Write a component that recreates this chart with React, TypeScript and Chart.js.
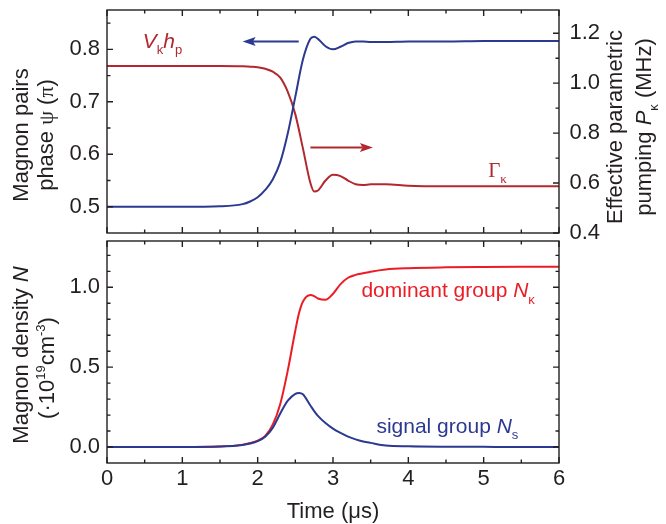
import React, { useEffect, useRef } from "react";
import { Chart, registerables } from "chart.js";

Chart.register(...registerables);

// ---------------- data ----------------
// Top panel: time (µs), magnon-pair phase psi (units of pi, left axis), V_k h_p pumping (MHz, right axis)
const timeTop = [0, 0.5, 1.0, 1.5, 1.8, 1.9, 2.0, 2.1, 2.2, 2.3, 2.4, 2.5, 2.6, 2.7, 2.75, 2.8, 2.9, 3.0, 3.1, 3.2, 3.3, 3.4, 3.5, 3.7, 4.0, 4.5, 5.0, 5.5, 6.0];
const phasePsi = [0.5, 0.5, 0.5, 0.501, 0.505, 0.51, 0.518, 0.532, 0.552, 0.585, 0.64, 0.71, 0.78, 0.82, 0.824, 0.82, 0.806, 0.8, 0.805, 0.812, 0.815, 0.815, 0.814, 0.814, 0.815, 0.815, 0.816, 0.816, 0.816];
const pumpVh = [1.069, 1.069, 1.069, 1.069, 1.068, 1.066, 1.064, 1.058, 1.046, 1.022, 0.965, 0.875, 0.74, 0.6, 0.566, 0.57, 0.61, 0.633, 0.628, 0.61, 0.595, 0.592, 0.595, 0.595, 0.589, 0.587, 0.587, 0.587, 0.587];

// Bottom panel: time (µs), magnon density (1e19 cm^-3)
const timeBottom = [0, 0.5, 1.0, 1.5, 1.8, 1.9, 2.0, 2.1, 2.2, 2.3, 2.4, 2.5, 2.55, 2.6, 2.7, 2.75, 2.8, 2.9, 3.0, 3.1, 3.2, 3.3, 3.4, 3.5, 3.7, 4.0, 4.5, 5.0, 5.5, 6.0];
const densityDominant = [0, 0, 0, 0.003, 0.015, 0.025, 0.04, 0.07, 0.14, 0.27, 0.48, 0.73, 0.84, 0.91, 0.952, 0.945, 0.93, 0.922, 0.96, 1.02, 1.06, 1.078, 1.088, 1.098, 1.112, 1.12, 1.125, 1.127, 1.128, 1.128];
const densitySignal = [0, 0, 0, 0.003, 0.013, 0.022, 0.037, 0.065, 0.12, 0.21, 0.29, 0.333, 0.338, 0.33, 0.26, 0.225, 0.195, 0.15, 0.115, 0.088, 0.065, 0.048, 0.035, 0.026, 0.01, 0.005, 0.002, 0.001, 0, 0];

// tick values
const timeMajorTicks = [0, 1, 2, 3, 4, 5, 6];
const timeMinorTicks = [0.5, 1.5, 2.5, 3.5, 4.5, 5.5];
const psiMajorTicks = [0.5, 0.6, 0.7, 0.8];
const psiMinorTicks = [0.55, 0.65, 0.75, 0.85];
const pumpMajorTicks = [0.4, 0.6, 0.8, 1.0, 1.2];
const pumpMinorTicks = [0.5, 0.7, 0.9, 1.1];
const densityMajorTicks = [0, 0.5, 1.0];
const densityMinorTicks = [0.1, 0.2, 0.3, 0.4, 0.6, 0.7, 0.8, 0.9, 1.1, 1.2];

// ---------------- styles ----------------
const FONT = "'Liberation Sans', Arial, Helvetica, sans-serif";
const SERIF = "'Liberation Serif', 'Times New Roman', serif";
const INK = "#231f20";
const BLUE = "#2b3990";
const DARK_RED = "#b2282e";
const RED = "#ec1c24";
const FS = 22;
const AFS = 21;
const MAJOR = 6;
const MINOR = 3.5;

type Seg = { t: string; i?: boolean; sub?: boolean; sup?: boolean; serif?: boolean };

function segFont(s: Seg, size: number) {
  const sz = s.sub || s.sup ? Math.round(size * 0.6) : size;
  return `${s.i ? "italic " : ""}${sz}px ${s.serif ? SERIF : FONT}`;
}

function drawRich(ctx: CanvasRenderingContext2D, segs: Seg[], x: number, y: number, size: number, color: string, rotate: boolean, align: "left" | "center") {
  ctx.save();
  ctx.translate(x, y);
  if (rotate) ctx.rotate(-Math.PI / 2);
  ctx.fillStyle = color;
  ctx.textBaseline = "alphabetic";
  ctx.textAlign = "left";
  const widths = segs.map((s) => {
    ctx.font = segFont(s, size);
    return ctx.measureText(s.t).width;
  });
  const total = widths.reduce((a, b) => a + b, 0);
  let cx = align === "center" ? -total / 2 : 0;
  segs.forEach((s, k) => {
    ctx.font = segFont(s, size);
    const dy = s.sub ? size * 0.3 : s.sup ? -size * 0.42 : 0;
    ctx.fillText(s.t, cx, dy);
    cx += widths[k];
  });
  ctx.restore();
}

function drawArrow(ctx: CanvasRenderingContext2D, x0: number, y0: number, x1: number, y1: number, color: string) {
  const dir = Math.sign(x1 - x0);
  const head = 13;
  const half = 4.5;
  ctx.save();
  ctx.strokeStyle = color;
  ctx.fillStyle = color;
  ctx.lineWidth = 2;
  ctx.beginPath();
  ctx.moveTo(x0, y0);
  ctx.lineTo(x1 - dir * head * 0.8, y1);
  ctx.stroke();
  ctx.beginPath();
  ctx.moveTo(x1, y1);
  ctx.lineTo(x1 - dir * head, y1 - half);
  ctx.lineTo(x1 - dir * head * 0.8, y1);
  ctx.lineTo(x1 - dir * head, y1 + half);
  ctx.closePath();
  ctx.fill();
  ctx.restore();
}

type TickSpec = { id: string; major: number[]; minor: number[] };

function frameTicks(chart: any, left: TickSpec, right: TickSpec) {
  const { ctx, chartArea: a } = chart;
  const xs = chart.scales.x;
  ctx.save();
  ctx.strokeStyle = INK;
  ctx.lineWidth = 1.4;
  ctx.beginPath();
  const vTick = (v: number, len: number) => {
    const px = xs.getPixelForValue(v);
    ctx.moveTo(px, a.bottom);
    ctx.lineTo(px, a.bottom - len);
    ctx.moveTo(px, a.top);
    ctx.lineTo(px, a.top + len);
  };
  timeMajorTicks.forEach((v) => vTick(v, MAJOR));
  timeMinorTicks.forEach((v) => vTick(v, MINOR));
  const ls = chart.scales[left.id];
  const hl = (v: number, len: number) => {
    const py = ls.getPixelForValue(v);
    if (py < a.top || py > a.bottom) return;
    ctx.moveTo(a.left, py);
    ctx.lineTo(a.left + len, py);
  };
  left.major.forEach((v) => hl(v, MAJOR));
  left.minor.forEach((v) => hl(v, MINOR));
  const rs = chart.scales[right.id];
  const hr = (v: number, len: number) => {
    const py = rs.getPixelForValue(v);
    if (py < a.top || py > a.bottom) return;
    ctx.moveTo(a.right, py);
    ctx.lineTo(a.right - len, py);
  };
  right.major.forEach((v) => hr(v, MAJOR));
  right.minor.forEach((v) => hr(v, MINOR));
  ctx.stroke();
  ctx.strokeRect(a.left, a.top, a.right - a.left, a.bottom - a.top);
  ctx.restore();
}

const tickFont = { family: FONT, size: FS };

function fixedWidth(w: number) {
  return (s: any) => {
    s.width = w;
    s.paddingTop = 0;
    s.paddingBottom = 0;
  };
}
function fixedHeight(h: number) {
  return (s: any) => {
    s.height = h;
    s.paddingLeft = 0;
    s.paddingRight = 0;
  };
}
function setTicks(vals: number[]) {
  return (s: any) => {
    s.ticks = vals.map((v) => ({ value: v }));
  };
}
const fmt1 = (v: any) => Number(v).toFixed(1);

function topConfig(): any {
  const plugin = {
    id: "topDecor",
    afterDatasetsDraw(chart: any) {
      frameTicks(chart, { id: "y", major: psiMajorTicks, minor: psiMinorTicks }, { id: "y1", major: pumpMajorTicks, minor: pumpMinorTicks });
    },
    afterDraw(chart: any) {
      const { ctx, chartArea: a, scales } = chart;
      const xs = scales.x, ys = scales.y, y1 = scales.y1;
      // axis titles
      drawRich(ctx, [{ t: "Magnon pairs" }], a.left - 79, 135, FS, INK, true, "center");
      drawRich(ctx, [{ t: "phase " }, { t: "ψ", serif: true }, { t: " (" }, { t: "π", serif: true }, { t: ")" }], a.left - 54, 135, FS, INK, true, "center");
      drawRich(ctx, [{ t: "Effective parametric" }], a.right + 63, 127, FS, INK, true, "center");
      drawRich(ctx, [{ t: "pumping " }, { t: "P", i: true }, { t: "κ", sub: true }, { t: " (MHz)" }], a.right + 92, 127, FS, INK, true, "center");
      // annotations
      drawRich(ctx, [{ t: "V", i: true }, { t: "k", sub: true }, { t: "h", i: true }, { t: "p", sub: true }], xs.getPixelForValue(0.475), ys.getPixelForValue(0.803), AFS, DARK_RED, false, "left");
      drawRich(ctx, [{ t: "Γ", serif: true }, { t: "κ", sub: true, serif: true }], xs.getPixelForValue(5.06), y1.getPixelForValue(0.625), AFS, DARK_RED, false, "left");
      drawArrow(ctx, xs.getPixelForValue(2.545), ys.getPixelForValue(0.815), xs.getPixelForValue(1.8), ys.getPixelForValue(0.815), BLUE);
      drawArrow(ctx, xs.getPixelForValue(2.7), y1.getPixelForValue(0.742), xs.getPixelForValue(3.53), y1.getPixelForValue(0.742), DARK_RED);
    },
  };
  return {
    type: "line",
    data: {
      datasets: [
        {
          data: timeTop.map((t, i) => ({ x: t, y: phasePsi[i] })),
          yAxisID: "y",
          borderColor: BLUE,
          borderWidth: 2,
          pointRadius: 0,
          cubicInterpolationMode: "monotone",
          fill: false,
        },
        {
          data: timeTop.map((t, i) => ({ x: t, y: pumpVh[i] })),
          yAxisID: "y1",
          borderColor: DARK_RED,
          borderWidth: 2,
          pointRadius: 0,
          cubicInterpolationMode: "monotone",
          fill: false,
        },
      ],
    },
    options: {
      responsive: false,
      animation: false,
      devicePixelRatio: 1,
      layout: { padding: { top: 10, left: 0, right: 0, bottom: 0 } },
      plugins: { legend: { display: false }, tooltip: { enabled: false } },
      scales: {
        x: {
          type: "linear",
          position: "bottom",
          min: 0,
          max: 6,
          afterBuildTicks: setTicks(timeMajorTicks),
          afterFit: fixedHeight(17),
          ticks: { display: false },
          grid: { display: false, drawTicks: false },
          border: { display: false },
        },
        y: {
          type: "linear",
          position: "left",
          min: 0.45,
          max: 0.875,
          afterBuildTicks: setTicks(psiMajorTicks),
          afterFit: fixedWidth(107),
          ticks: { font: tickFont, color: INK, padding: 7, callback: fmt1 },
          grid: { display: false, drawTicks: false },
          border: { display: false },
        },
        y1: {
          type: "linear",
          position: "right",
          min: 0.4,
          max: 1.293,
          afterBuildTicks: setTicks(pumpMajorTicks),
          afterFit: fixedWidth(107),
          ticks: { font: tickFont, color: INK, padding: 10.5, callback: fmt1 },
          grid: { display: false, drawTicks: false },
          border: { display: false },
        },
      },
    },
    plugins: [plugin],
  };
}

function bottomConfig(): any {
  const plugin = {
    id: "bottomDecor",
    afterDatasetsDraw(chart: any) {
      frameTicks(chart, { id: "y", major: densityMajorTicks, minor: densityMinorTicks }, { id: "y", major: densityMajorTicks, minor: densityMinorTicks });
    },
    afterDraw(chart: any) {
      const { ctx, chartArea: a, scales } = chart;
      const xs = scales.x, ys = scales.y;
      drawRich(ctx, [{ t: "Magnon density " }, { t: "N", i: true }], a.left - 79, 125, FS, INK, true, "center");
      drawRich(ctx, [{ t: "(·10" }, { t: "19", sup: true }, { t: "cm" }, { t: "-3", sup: true }, { t: ")" }], a.left - 53, 138, FS, INK, true, "center");
      drawRich(ctx, [{ t: "dominant group " }, { t: "N", i: true }, { t: "κ", sub: true }], xs.getPixelForValue(3.377), ys.getPixelForValue(0.9375), AFS, RED, false, "left");
      drawRich(ctx, [{ t: "signal group " }, { t: "N", i: true }, { t: "s", sub: true }], xs.getPixelForValue(3.576), ys.getPixelForValue(0.0875), AFS, BLUE, false, "left");
    },
  };
  return {
    type: "line",
    data: {
      datasets: [
        {
          data: timeBottom.map((t, i) => ({ x: t, y: densitySignal[i] })),
          borderColor: BLUE,
          borderWidth: 2,
          pointRadius: 0,
          cubicInterpolationMode: "monotone",
          fill: false,
        },
        {
          data: timeBottom.map((t, i) => ({ x: t, y: densityDominant[i] })),
          borderColor: RED,
          borderWidth: 2,
          pointRadius: 0,
          cubicInterpolationMode: "monotone",
          fill: false,
        },
      ],
    },
    options: {
      responsive: false,
      animation: false,
      devicePixelRatio: 1,
      layout: { padding: { top: 11, left: 0, right: 107, bottom: 0 } },
      plugins: { legend: { display: false }, tooltip: { enabled: false } },
      scales: {
        x: {
          type: "linear",
          position: "bottom",
          min: 0,
          max: 6,
          afterBuildTicks: setTicks(timeMajorTicks),
          afterFit: fixedHeight(61),
          ticks: { font: tickFont, color: INK, padding: 3, maxRotation: 0, callback: (v: any) => String(v) },
          title: { display: true, text: "Time (μs)", color: INK, font: { family: FONT, size: FS, lineHeight: 1.1 }, padding: 0 },
          grid: { display: false, drawTicks: false },
          border: { display: false },
        },
        y: {
          type: "linear",
          position: "left",
          min: -0.1,
          max: 1.29,
          afterBuildTicks: setTicks(densityMajorTicks),
          afterFit: fixedWidth(107),
          ticks: { font: tickFont, color: INK, padding: 7, callback: fmt1 },
          grid: { display: false, drawTicks: false },
          border: { display: false },
        },
      },
    },
    plugins: [plugin],
  };
}

export default function App() {
  const topRef = useRef<HTMLCanvasElement>(null);
  const botRef = useRef<HTMLCanvasElement>(null);
  useEffect(() => {
    const top = new Chart(topRef.current as HTMLCanvasElement, topConfig());
    const bot = new Chart(botRef.current as HTMLCanvasElement, bottomConfig());
    return () => {
      top.destroy();
      bot.destroy();
    };
  }, []);
  return (
    <div style={{ position: "absolute", left: 0, top: 0, width: 666, height: 524, background: "#fff", overflow: "hidden" }}>
      <canvas ref={topRef} width={666} height={250} style={{ position: "absolute", left: 0, top: 0 }} />
      <canvas ref={botRef} width={666} height={294} style={{ position: "absolute", left: 0, top: 230 }} />
    </div>
  );
}
